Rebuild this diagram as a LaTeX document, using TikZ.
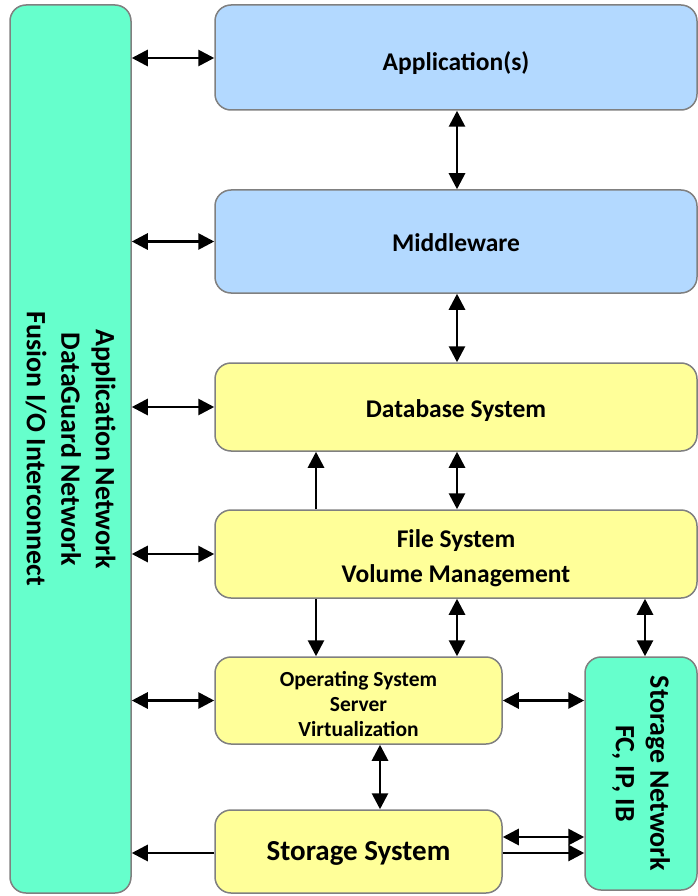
\documentclass[tikz,border=0pt]{standalone}
\usepackage{fontspec}
\setmainfont{Carlito}
\usetikzlibrary{arrows.meta}
\definecolor{netgreen}{RGB}{102,255,204}
\definecolor{appblue}{RGB}{179,217,255}
\definecolor{sysyellow}{RGB}{255,255,153}
\definecolor{edgegray}{RGB}{128,128,128}
\tikzset{
  box/.style={draw=edgegray, line width=1.5pt, rounded corners=16pt, inner sep=0pt},
  bluebox/.style={box, fill=appblue},
  yellowbox/.style={box, fill=sysyellow},
  greenbox/.style={box, fill=netgreen},
  boxtext/.style={yshift=-4pt, align=center, inner sep=0pt, font=\bfseries\fontsize{25.5}{35}\selectfont},
  rottext/.style={rotate=-90, align=center, inner sep=0pt, font=\bfseries\fontsize{28}{34.5}\selectfont},
  link/.style={line width=2.8pt, {Triangle[length=16pt,width=16pt]}-{Triangle[length=16pt,width=16pt]}},
  onelink/.style={line width=2.8pt, -{Triangle[length=16pt,width=16pt]}}
}
\begin{document}
\begin{tikzpicture}[x=1pt, y=-1pt]
\useasboundingbox (0,0) rectangle (698,896);

% network columns
\node[greenbox, minimum width=121pt, minimum height=888pt,
  label={[rottext]center:Application Network\\DataGuard Network\\Fusion I/O Interconnect}] (net) at (70.5,449) {};
\node[greenbox, minimum width=112pt, minimum height=233pt,
  label={[rottext]center:Storage Network\\FC, IP, IB}] (snet) at (641,773.5) {};

% layer stack
\node[bluebox, minimum width=482pt, minimum height=105pt,
  label={[boxtext, yshift=-2pt]center:Application(s)}] (app) at (456,57.5) {};
\node[bluebox, minimum width=482pt, minimum height=103pt,
  label={[boxtext, yshift=3pt]center:Middleware}] (mid) at (456,241.5) {};
\node[yellowbox, minimum width=482pt, minimum height=88pt,
  label={[boxtext]center:Database System}] (db) at (456,407) {};
\node[yellowbox, minimum width=482pt, minimum height=88pt,
  label={[boxtext]center:File System\\Volume Management}] (fs) at (456,554) {};
\node[yellowbox, minimum width=287pt, minimum height=87pt,
  label={[boxtext, font=\bfseries\fontsize{21.5}{25}\selectfont]center:Operating System\\Server\\Virtualization}] (os) at (358.5,700.5) {};
\node[yellowbox, minimum width=287pt, minimum height=83pt,
  label={[boxtext, yshift=2pt, font=\bfseries\fontsize{29}{30}\selectfont]center:Storage System}] (ss) at (358.5,851.5) {};

% helper columns for off-centre connectors
\coordinate (xa) at (316,0);
\coordinate (xb) at (457,0);
\coordinate (xc) at (645,0);
\coordinate (xd) at (380,0);

% links to the left network column
\draw[link] (net.east |- 0,58) -- (app.west |- 0,58);
\draw[link] (net.east |- mid.west) -- (mid.west);
\draw[link] (net.east |- db.west) -- (db.west);
\draw[link] (net.east |- fs.west) -- (fs.west);
\draw[link] (net.east |- os.west) -- (os.west);
\draw[onelink] (ss.west |- 0,853) -- (net.east |- 0,853);

% vertical links in the stack
\draw[link] (app.south -| xb) -- (mid.north -| xb);
\draw[link] (mid.south -| xb) -- (db.north -| xb);
\draw[onelink] (fs.north -| xa) -- (db.south -| xa);
\draw[link] (fs.north -| xb) -- (db.south -| xb);
\draw[onelink] (fs.south -| xa) -- (os.north -| xa);
\draw[link] (fs.south -| xb) -- (os.north -| xb);
\draw[link] (fs.south -| xc) -- (snet.north -| xc);
\draw[link] (os.south -| xd) -- (ss.north -| xd);

% links to the storage network
\draw[link] (os.east) -- (snet.west |- os.east);
\draw[link] (ss.east |- 0,837) -- (snet.west |- 0,837);
\draw[onelink] (ss.east |- 0,853) -- (snet.west |- 0,853);
\end{tikzpicture}
\end{document}
